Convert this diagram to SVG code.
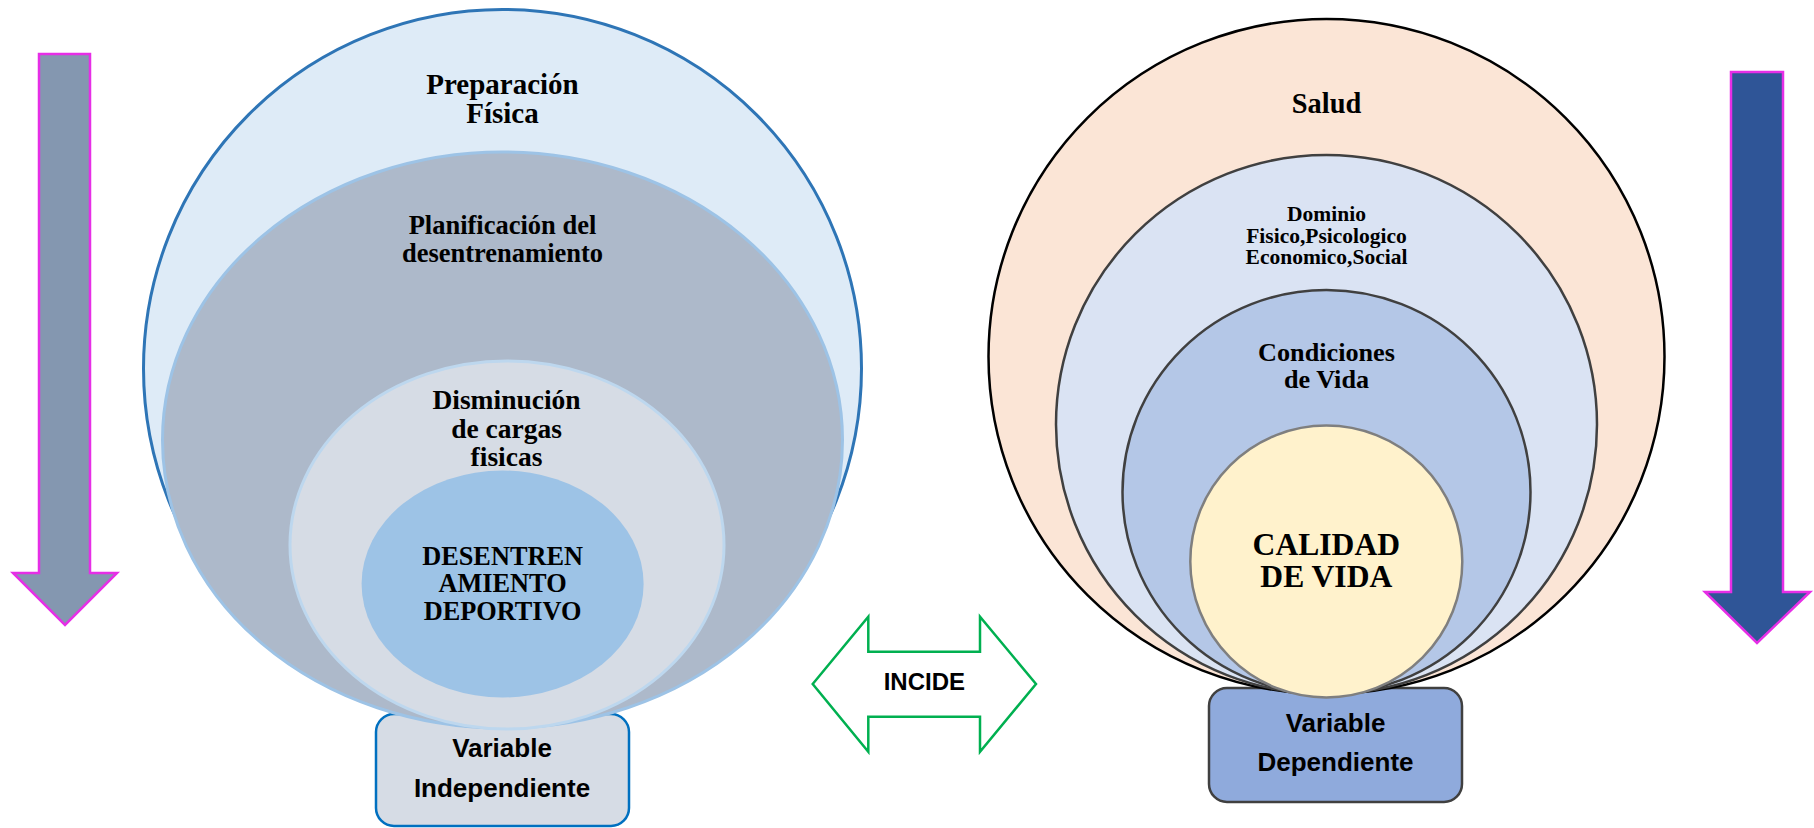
<svg xmlns="http://www.w3.org/2000/svg" width="1814" height="828" viewBox="0 0 1814 828">
<style>
.ser{font-family:"Liberation Serif","Times New Roman",serif;font-weight:bold;fill:#000;text-anchor:middle}
.san{font-family:"Liberation Sans",Arial,sans-serif;font-weight:bold;fill:#000;text-anchor:middle}
.varrow{stroke:#E62EE6;stroke-width:2.5}
</style>
<rect width="1814" height="828" fill="#fff"/>
<g id="arrow-left">
<polygon class="varrow" fill="#8497B0" points="39,54 90,54 90,573 117,573 65,625 13,573 39,573"/>
</g>
<g id="arrow-right">
<polygon class="varrow" fill="#2F5597" points="1731,72 1783,72 1783,592 1810,592 1757,643 1705,592 1731,592"/>
</g>
<g id="box-independiente">
<rect x="376" y="714" width="253" height="112" rx="18" fill="#D6DCE5" stroke="#0070C0" stroke-width="2.5"/>
<text class="san" font-size="26" x="502" y="757">Variable</text>
<text class="san" font-size="26" x="502" y="797">Independiente</text>
</g>
<g id="box-dependiente">
<rect x="1209" y="688" width="253" height="114" rx="18" fill="#8FAADC" stroke="#404040" stroke-width="2.5"/>
<text class="san" font-size="26" x="1335.5" y="732">Variable</text>
<text class="san" font-size="26" x="1335.5" y="771">Dependiente</text>
</g>
<g id="preparacion">
<ellipse cx="502.5" cy="368.5" rx="359" ry="359" fill="#DEEBF7" stroke="#2E75B6" stroke-width="3"/>
<text class="ser" font-size="29" x="502.5" y="94">Preparación</text>
<text class="ser" font-size="29" x="502.5" y="123">Física</text>
</g>
<g id="planificacion">
<ellipse cx="502.5" cy="440" rx="340" ry="288" fill="#ADB9CA" stroke="#9DC3E6" stroke-width="3"/>
<text class="ser" font-size="26.5" x="502.5" y="234">Planificación del</text>
<text class="ser" font-size="26.5" x="502.5" y="262">desentrenamiento</text>
</g>
<g id="disminucion">
<ellipse cx="507" cy="545" rx="217" ry="184" fill="#D6DCE5" stroke="#BDD7EE" stroke-width="3"/>
<text class="ser" font-size="27.5" x="506.5" y="409">Disminución</text>
<text class="ser" font-size="27.5" x="506.5" y="438">de cargas</text>
<text class="ser" font-size="27.5" x="506.5" y="466">fisicas</text>
</g>
<g id="desentrenamiento">
<ellipse cx="502.6" cy="584" rx="141" ry="113.5" fill="#9DC3E6"/>
<text class="ser" font-size="26.3" x="502.6" y="565">DESENTREN</text>
<text class="ser" font-size="26.3" x="502.6" y="592">AMIENTO</text>
<text class="ser" font-size="26.3" x="502.6" y="620">DEPORTIVO</text>
</g>
<g id="salud">
<ellipse cx="1326.5" cy="356.5" rx="338" ry="337.5" fill="#FBE5D6" stroke="#000" stroke-width="2.5"/>
<text class="ser" font-size="28.4" x="1326.5" y="113">Salud</text>
</g>
<g id="dominio">
<ellipse cx="1326.5" cy="424.5" rx="270.5" ry="269.5" fill="#DAE3F3" stroke="#404040" stroke-width="2.5"/>
<text class="ser" font-size="21.5" x="1326.5" y="221">Dominio</text>
<text class="ser" font-size="21.5" x="1326.5" y="243">Fisico,Psicologico</text>
<text class="ser" font-size="21.5" x="1326.5" y="264">Economico,Social</text>
</g>
<g id="condiciones">
<ellipse cx="1326.5" cy="492" rx="204" ry="202" fill="#B4C7E7" stroke="#404040" stroke-width="2.5"/>
<text class="ser" font-size="26.2" x="1326.5" y="361">Condiciones</text>
<text class="ser" font-size="26.2" x="1326.5" y="388">de Vida</text>
</g>
<g id="calidad">
<ellipse cx="1326.3" cy="561.5" rx="136" ry="136" fill="#FFF2CC" stroke="#7F7F7F" stroke-width="2.5"/>
<text class="ser" font-size="31.6" x="1326.3" y="555">CALIDAD</text>
<text class="ser" font-size="31.6" x="1326.3" y="587">DE VIDA</text>
</g>
<g id="connectors">
<polygon points="812.7,684 868.3,616.7 868.3,651.7 980,651.7 980,616.7 1036,684 980,751.7 980,716.7 868.3,716.7 868.3,751.7" fill="#fff" stroke="#00B050" stroke-width="2.5"/>
<text class="san" font-size="24" x="924.3" y="690">INCIDE</text>
</g>
</svg>
